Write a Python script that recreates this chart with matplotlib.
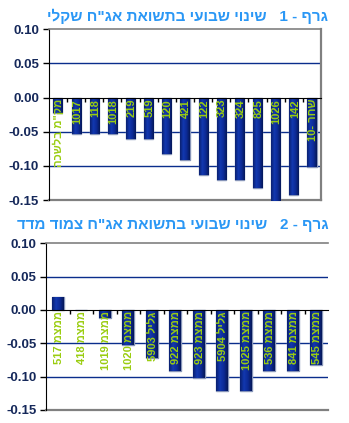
import re
import numpy as np
import matplotlib
matplotlib.use("Agg")
import matplotlib.pyplot as plt
from matplotlib.colors import LinearSegmentedColormap

plt.rcParams['font.family'] = ['Liberation Sans', 'DejaVu Sans']

# weekly yield change, shekel bonds
shekel_labels = ['מק"מ בלשכה', '1017', '118', '1018', '219', '519', '120',
                 '421', '122', '323', '324', '825', '1026', '142', 'שחר -10']
shekel_values = [-0.022, -0.053, -0.053, -0.053, -0.061, -0.061, -0.082,
                 -0.092, -0.113, -0.121, -0.121, -0.132, -0.152, -0.143, -0.102]

# weekly yield change, CPI-linked bonds
cpi_labels = ['ממצמ 517', 'ממצמ 418', 'ממצמ 1019', 'ממצמ 1020', 'גליל 5903',
              'ממצמ 922', 'ממצמ 923', 'גליל 5904', 'ממצמ 1025', 'ממצמ 536',
              'ממצמ 841', 'ממצמ 545']
cpi_values = [0.020, 0.0, -0.0115, -0.052, -0.0715, -0.0915, -0.1025,
              -0.121, -0.121, -0.0915, -0.0915, -0.0825]

title1 = 'גרף - 1   שינוי שבועי בתשואת אג"ח שקלי'
title2 = 'גרף - 2   שינוי שבועי בתשואת אג"ח צמוד מדד'

yticks = [0.10, 0.05, 0.00, -0.05, -0.10, -0.15]


def visual(s):
    # matplotlib has no bidi support: flip the string, keep digit runs readable
    r = s[::-1]
    return re.sub(r'[0-9.]+', lambda m: m.group(0)[::-1], r)


GRID = '#0a2d8c'
TICKTXT = '#15285a'
LABEL = '#9acd10'
TITLE = '#2a97f5'

bar_cmap = LinearSegmentedColormap.from_list(
    'barshade', ['#0a2070', '#1238b0', '#0c2a95', '#061858'])
shade = np.linspace(0, 1, 64).reshape(1, -1)

fig = plt.figure(figsize=(3.49, 4.23), dpi=100)


def draw(rect, labels, values, title, right_border, title_y):
    ax = fig.add_axes(rect)
    x = np.arange(len(values))
    bars = ax.bar(x, values, width=0.5, color='#0b2585', edgecolor='#8694b8',
                  linewidth=1.0, zorder=3)
    # horizontal shading inside each bar
    for b in bars:
        if b.get_height() == 0:
            continue
        x0, y0 = b.get_x(), b.get_y()
        im = ax.imshow(shade, cmap=bar_cmap, aspect='auto', zorder=3.5,
                       extent=[x0, x0 + b.get_width(), y0, y0 + b.get_height()])
        im.set_clip_path(b)
    ax.set_xlim(-0.5, len(values) - 0.5)
    ax.set_ylim(-0.15, 0.10)

    for g in (0.05, -0.05, -0.10):
        ax.axhline(g, color=GRID, lw=1.0, zorder=1)
    ax.axhline(-0.15, color='#808080', lw=1.6, zorder=2, clip_on=False)

    ax.spines['bottom'].set_position(('data', 0))
    ax.spines['bottom'].set_color('black')
    ax.spines['bottom'].set_zorder(4)
    ax.spines['left'].set_color('black')
    ax.spines['top'].set_color('#808080')
    ax.spines['top'].set_linewidth(1.2)
    ax.spines['right'].set_visible(right_border)
    ax.spines['right'].set_color('#808080')
    ax.spines['right'].set_linewidth(1.6)

    ax.set_xticks(x[:-1] + 0.5)
    ax.set_xticklabels([])
    ax.tick_params(axis='x', direction='out', length=3, width=1, color='black')
    ax.set_yticks(yticks)
    ax.set_yticklabels(['%.2f' % t for t in yticks])
    ax.tick_params(axis='y', direction='out', length=4, width=1, pad=3,
                   labelsize=9.5, labelcolor=TICKTXT)
    for t in ax.get_yticklabels():
        t.set_fontweight('bold')

    for xi, lab in zip(x, labels):
        ax.text(xi + 0.05, -0.002, visual(lab), rotation=90, ha='center',
                va='top', color=LABEL, fontsize=8, fontweight='bold', zorder=5)

    fig.text(0.94, title_y, visual(title), ha='right', va='center',
             color=TITLE, fontsize=11, fontweight='bold')
    return ax


draw([0.140, 0.527, 0.780, 0.404], shekel_labels, shekel_values, title1,
     True, 0.962)
draw([0.132, 0.031, 0.808, 0.394], cpi_labels, cpi_values, title2,
     False, 0.468)

fig.savefig('out.png', dpi=100, facecolor='white')
